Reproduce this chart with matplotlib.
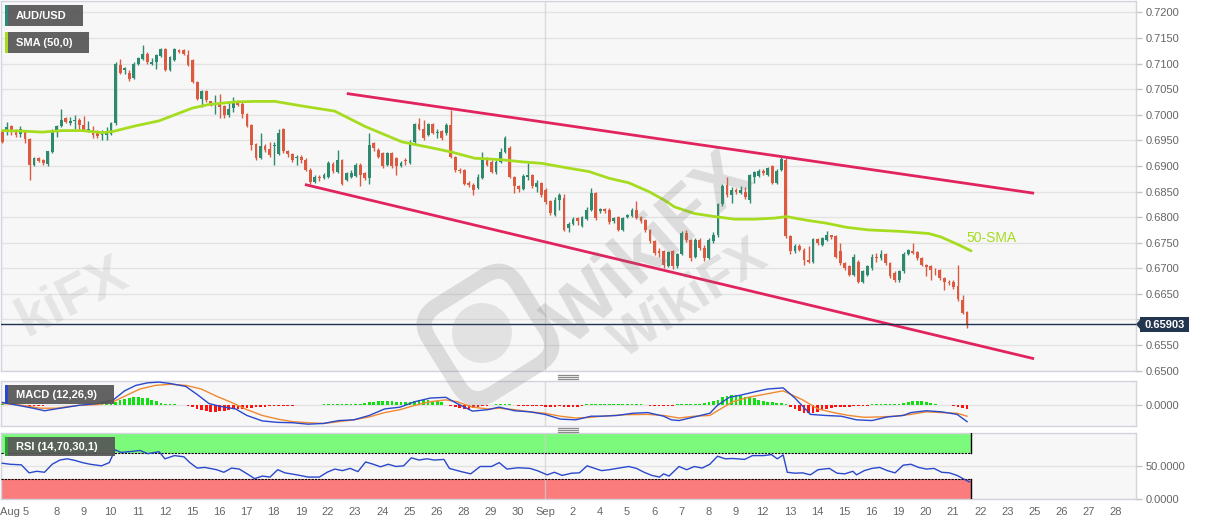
import matplotlib
matplotlib.use('Agg')
import matplotlib.pyplot as plt
import matplotlib.transforms as mtransforms
import numpy as np
from matplotlib.patches import Rectangle, Polygon, FancyBboxPatch, Circle
from matplotlib.lines import Line2D

plt.rcParams['font.family'] = ['Liberation Sans', 'DejaVu Sans']

# ---------------- data (4H candles, AUD/USD) ----------------
opens = [
    0.6967, 0.6967, 0.6977, 0.6970, 0.6963, 0.6967, 0.6952, 0.6902, 0.6915, 0.6911,
    0.6903, 0.6928, 0.6970, 0.6978, 0.6993, 0.6983, 0.6987, 0.6989, 0.6980, 0.6970,
    0.6971, 0.6967, 0.6960, 0.6960, 0.6963, 0.6983, 0.7098, 0.7087, 0.7082, 0.7072,
    0.7100, 0.7108, 0.7119, 0.7100, 0.7102, 0.7115, 0.7128, 0.7087, 0.7106, 0.7126,
    0.7126, 0.7117, 0.7106, 0.7064, 0.7030, 0.7046, 0.7026, 0.7019, 0.7022, 0.7017,
    0.6999, 0.7013, 0.7025, 0.7020, 0.7002, 0.6980, 0.6942, 0.6915, 0.6938, 0.6933,
    0.6938, 0.6923, 0.6972, 0.6929, 0.6923, 0.6915, 0.6918, 0.6912, 0.6892, 0.6868,
    0.6879, 0.6877, 0.6879, 0.6903, 0.6889, 0.6912, 0.6873, 0.6879, 0.6881, 0.6902,
    0.6886, 0.6876, 0.6944, 0.6931, 0.6925, 0.6902, 0.6925, 0.6915, 0.6899, 0.6912,
    0.6905, 0.6947, 0.6981, 0.6973, 0.6960, 0.6981, 0.6964, 0.6968, 0.6964, 0.6979,
    0.6918, 0.6892, 0.6892, 0.6867, 0.6862, 0.6857, 0.6876, 0.6912, 0.6908, 0.6889,
    0.6908, 0.6928, 0.6934, 0.6879, 0.6860, 0.6854, 0.6879, 0.6882, 0.6858, 0.6866,
    0.6853, 0.6831, 0.6804, 0.6834, 0.6837, 0.6779, 0.6787, 0.6798, 0.6783, 0.6796,
    0.6814, 0.6847, 0.6811, 0.6816, 0.6814, 0.6792, 0.6800, 0.6775, 0.6800, 0.6802,
    0.6814, 0.6800, 0.6794, 0.6775, 0.6753, 0.6733, 0.6733, 0.6705, 0.6733, 0.6704,
    0.6727, 0.6769, 0.6756, 0.6723, 0.6756, 0.6740, 0.6720, 0.6753, 0.6766, 0.6826,
    0.6863, 0.6843, 0.6853, 0.6848, 0.6850, 0.6834, 0.6879, 0.6880, 0.6891, 0.6882,
    0.6899, 0.6867, 0.6892, 0.6912, 0.6763, 0.6733, 0.6744, 0.6736, 0.6716, 0.6713,
    0.6757, 0.6746, 0.6756, 0.6765, 0.6763, 0.6733, 0.6710, 0.6705, 0.6687, 0.6713,
    0.6674, 0.6687, 0.6700, 0.6723, 0.6720, 0.6727, 0.6710, 0.6691, 0.6678, 0.6694,
    0.6728, 0.6733, 0.6731, 0.6720, 0.6707, 0.6704, 0.6697, 0.6697, 0.6681, 0.6674,
    0.6674, 0.6665, 0.6639, 0.6614]
closes = [
    0.6947, 0.6976, 0.6968, 0.6961, 0.6973, 0.6952, 0.6902, 0.6916, 0.6910, 0.6905,
    0.6929, 0.6970, 0.6978, 0.6989, 0.6985, 0.6987, 0.6990, 0.6980, 0.6970, 0.6973,
    0.6961, 0.6959, 0.6963, 0.6967, 0.6983, 0.7100, 0.7082, 0.7091, 0.7069, 0.7100,
    0.7111, 0.7119, 0.7102, 0.7103, 0.7116, 0.7128, 0.7087, 0.7113, 0.7128, 0.7123,
    0.7119, 0.7097, 0.7064, 0.7030, 0.7046, 0.7028, 0.7020, 0.7022, 0.7015, 0.6999,
    0.7012, 0.7025, 0.7019, 0.7002, 0.6978, 0.6941, 0.6915, 0.6938, 0.6931, 0.6921,
    0.6941, 0.6964, 0.6929, 0.6923, 0.6912, 0.6918, 0.6912, 0.6892, 0.6868, 0.6879,
    0.6876, 0.6882, 0.6905, 0.6890, 0.6912, 0.6865, 0.6886, 0.6886, 0.6902, 0.6882,
    0.6876, 0.6941, 0.6934, 0.6918, 0.6899, 0.6925, 0.6899, 0.6899, 0.6905, 0.6909,
    0.6947, 0.6981, 0.6973, 0.6954, 0.6981, 0.6964, 0.6967, 0.6954, 0.6979, 0.6918,
    0.6892, 0.6890, 0.6865, 0.6862, 0.6853, 0.6879, 0.6912, 0.6902, 0.6889, 0.6908,
    0.6928, 0.6954, 0.6879, 0.6860, 0.6854, 0.6880, 0.6882, 0.6860, 0.6866, 0.6843,
    0.6829, 0.6808, 0.6834, 0.6843, 0.6775, 0.6787, 0.6796, 0.6792, 0.6800, 0.6814,
    0.6847, 0.6798, 0.6816, 0.6811, 0.6790, 0.6798, 0.6775, 0.6798, 0.6804, 0.6814,
    0.6798, 0.6792, 0.6775, 0.6753, 0.6730, 0.6729, 0.6707, 0.6731, 0.6704, 0.6727,
    0.6769, 0.6756, 0.6720, 0.6756, 0.6740, 0.6720, 0.6756, 0.6766, 0.6826, 0.6861,
    0.6843, 0.6853, 0.6849, 0.6853, 0.6840, 0.6882, 0.6889, 0.6891, 0.6886, 0.6895,
    0.6866, 0.6891, 0.6913, 0.6763, 0.6733, 0.6744, 0.6736, 0.6716, 0.6713, 0.6757,
    0.6749, 0.6759, 0.6765, 0.6762, 0.6723, 0.6710, 0.6700, 0.6687, 0.6723, 0.6674,
    0.6694, 0.6704, 0.6723, 0.6720, 0.6727, 0.6710, 0.6684, 0.6678, 0.6694, 0.6728,
    0.6735, 0.6730, 0.6720, 0.6707, 0.6702, 0.6697, 0.6696, 0.6681, 0.6674, 0.6672,
    0.6663, 0.6640, 0.6613, 0.6590]
highs = [
    0.6970, 0.6985, 0.6980, 0.6972, 0.6978, 0.6970, 0.6955, 0.6918, 0.6918, 0.6913,
    0.6930, 0.6972, 0.6980, 0.7011, 0.6996, 0.6996, 0.6999, 0.6993, 0.6998, 0.6987,
    0.6978, 0.6970, 0.6970, 0.6976, 0.6985, 0.7102, 0.7108, 0.7093, 0.7087, 0.7102,
    0.7113, 0.7137, 0.7122, 0.7110, 0.7118, 0.7130, 0.7130, 0.7115, 0.7130, 0.7128,
    0.7128, 0.7126, 0.7108, 0.7066, 0.7048, 0.7048, 0.7027, 0.7038, 0.7041, 0.7019,
    0.7025, 0.7035, 0.7028, 0.7026, 0.7004, 0.6982, 0.6945, 0.6964, 0.6942, 0.6947,
    0.6947, 0.6973, 0.6974, 0.6931, 0.6926, 0.6921, 0.6921, 0.6915, 0.6895, 0.6883,
    0.6882, 0.6886, 0.6910, 0.6907, 0.6931, 0.6914, 0.6889, 0.6892, 0.6906, 0.6905,
    0.6888, 0.6964, 0.6947, 0.6934, 0.6928, 0.6928, 0.6928, 0.6918, 0.6910, 0.6915,
    0.6950, 0.6984, 0.6993, 0.6990, 0.6983, 0.6983, 0.6973, 0.6970, 0.6983, 0.7009,
    0.6920, 0.6895, 0.6894, 0.6870, 0.6866, 0.6884, 0.6928, 0.6918, 0.6912, 0.6912,
    0.6934, 0.6958, 0.6938, 0.6881, 0.6862, 0.6884, 0.6905, 0.6884, 0.6873, 0.6868,
    0.6856, 0.6833, 0.6840, 0.6847, 0.6845, 0.6790, 0.6800, 0.6801, 0.6803, 0.6820,
    0.6856, 0.6849, 0.6818, 0.6818, 0.6817, 0.6801, 0.6802, 0.6801, 0.6806, 0.6818,
    0.6832, 0.6802, 0.6796, 0.6777, 0.6755, 0.6740, 0.6735, 0.6734, 0.6735, 0.6730,
    0.6772, 0.6775, 0.6758, 0.6760, 0.6760, 0.6745, 0.6760, 0.6770, 0.6828, 0.6864,
    0.6879, 0.6858, 0.6856, 0.6860, 0.6858, 0.6885, 0.6891, 0.6893, 0.6893, 0.6898,
    0.6901, 0.6893, 0.6919, 0.6915, 0.6765, 0.6748, 0.6747, 0.6740, 0.6743, 0.6760,
    0.6760, 0.6762, 0.6772, 0.6766, 0.6765, 0.6749, 0.6712, 0.6707, 0.6727, 0.6716,
    0.6697, 0.6707, 0.6727, 0.6730, 0.6735, 0.6730, 0.6712, 0.6694, 0.6697, 0.6731,
    0.6737, 0.6749, 0.6733, 0.6722, 0.6709, 0.6706, 0.6700, 0.6699, 0.6683, 0.6677,
    0.6678, 0.6707, 0.6648, 0.6616]
lows = [
    0.6945, 0.6960, 0.6960, 0.6957, 0.6957, 0.6944, 0.6873, 0.6900, 0.6908, 0.6902,
    0.6900, 0.6926, 0.6957, 0.6976, 0.6983, 0.6980, 0.6973, 0.6970, 0.6968, 0.6967,
    0.6954, 0.6955, 0.6950, 0.6950, 0.6960, 0.6980, 0.7080, 0.7080, 0.7065, 0.7070,
    0.7098, 0.7106, 0.7100, 0.7098, 0.7090, 0.7113, 0.7085, 0.7085, 0.7104, 0.7120,
    0.7116, 0.7095, 0.7062, 0.7028, 0.7015, 0.7025, 0.7017, 0.7002, 0.6994, 0.6994,
    0.6996, 0.7006, 0.7017, 0.6993, 0.6976, 0.6931, 0.6912, 0.6913, 0.6928, 0.6918,
    0.6902, 0.6921, 0.6926, 0.6917, 0.6908, 0.6902, 0.6905, 0.6890, 0.6865, 0.6866,
    0.6871, 0.6874, 0.6877, 0.6887, 0.6887, 0.6862, 0.6871, 0.6877, 0.6879, 0.6860,
    0.6872, 0.6865, 0.6930, 0.6915, 0.6895, 0.6899, 0.6895, 0.6882, 0.6897, 0.6902,
    0.6903, 0.6944, 0.6970, 0.6951, 0.6958, 0.6962, 0.6954, 0.6950, 0.6960, 0.6915,
    0.6888, 0.6886, 0.6862, 0.6858, 0.6844, 0.6855, 0.6874, 0.6899, 0.6886, 0.6885,
    0.6905, 0.6926, 0.6877, 0.6847, 0.6850, 0.6852, 0.6873, 0.6856, 0.6850, 0.6840,
    0.6826, 0.6805, 0.6802, 0.6814, 0.6772, 0.6770, 0.6785, 0.6785, 0.6781, 0.6794,
    0.6812, 0.6795, 0.6808, 0.6808, 0.6786, 0.6789, 0.6772, 0.6773, 0.6798, 0.6800,
    0.6796, 0.6788, 0.6770, 0.6750, 0.6725, 0.6723, 0.6700, 0.6703, 0.6698, 0.6700,
    0.6725, 0.6752, 0.6715, 0.6720, 0.6735, 0.6715, 0.6718, 0.6750, 0.6762, 0.6822,
    0.6840, 0.6828, 0.6845, 0.6846, 0.6835, 0.6827, 0.6866, 0.6878, 0.6882, 0.6880,
    0.6864, 0.6865, 0.6890, 0.6760, 0.6728, 0.6730, 0.6733, 0.6707, 0.6710, 0.6710,
    0.6746, 0.6744, 0.6754, 0.6758, 0.6720, 0.6707, 0.6697, 0.6684, 0.6684, 0.6671,
    0.6671, 0.6684, 0.6697, 0.6713, 0.6716, 0.6707, 0.6681, 0.6674, 0.6674, 0.6691,
    0.6726, 0.6727, 0.6717, 0.6704, 0.6684, 0.6678, 0.6687, 0.6678, 0.6658, 0.6668,
    0.6660, 0.6637, 0.6610, 0.6584]

last_price = 0.65903

# 50-period SMA (candle index, value)
sma_idx = [0, 4.4, 8.8, 13.2, 17.6, 22, 24.3, 29.3, 34.6, 39, 42, 45.6, 51.4, 55.8, 60.2,
           66.2, 73.4, 80.1, 88.2, 95.5, 99.2, 104.3, 110.3, 114.7, 119.1, 123.5, 129.5,
           133.9, 138.3, 142.7, 146.2, 148.4, 152.8, 157.3, 161.7, 166.1, 170.5, 173.1,
           177.5, 182, 186.4, 191.2, 198.5, 204.5, 207.3, 211.1, 213.9]
sma_val = [0.6969, 0.6968, 0.6966, 0.6969, 0.6969, 0.6965, 0.6967, 0.6978, 0.6988, 0.7003,
           0.7013, 0.7020, 0.7025, 0.7026, 0.7026, 0.7017, 0.7007, 0.6977, 0.6947, 0.6934,
           0.6927, 0.6915, 0.6912, 0.6908, 0.6905, 0.6898, 0.6889, 0.6876, 0.6867, 0.6850,
           0.6833, 0.6820, 0.6807, 0.6801, 0.6796, 0.6796, 0.6798, 0.6801, 0.6794, 0.6788,
           0.6780, 0.6775, 0.6772, 0.6768, 0.6761, 0.6746, 0.6734]

# descending channel (candle index, price)
upper_line_idx = [76.35, 227.5]
upper_line_val = [0.7041, 0.6847]
lower_line_idx = [67.1, 227.5]
lower_line_val = [0.6863, 0.6524]

# MACD (12,26,9)
macd_idx = [0, 3.4, 6.8, 9.3, 11.8, 16.9, 21.1, 24.5, 27, 29.5, 32.1, 34.6, 37.1, 40.5, 43,
            45.6, 48.1, 51.5, 54, 57.4, 60.8, 64.1, 67.5, 70.9, 74.3, 77.6, 81, 84.4, 87.8,
            91.1, 94.5, 97.9, 100.4, 103.8, 107.2, 109.7, 113.1, 116.5, 119.8, 123.2, 126.6,
            130, 132.3, 135.7, 139.1, 142.5, 146, 147.7, 149.4, 152.8, 156.2, 157.9, 160.5,
            163, 166.4, 169, 172.4, 175, 178.4, 181.8, 185.2, 188.6, 192, 195.4, 198.9, 200.6,
            204, 207.4, 210.8, 213]
macd_val = [0.00042, -0.00014, -0.0007, -0.00119, -0.00084, -0.00014, 0.00021, 0.00091,
            0.00266, 0.00371, 0.0042, 0.00434, 0.00406, 0.0035, 0.00196, 0.00021, -0.00035,
            -0.00084, -0.0021, -0.00315, -0.00343, -0.0035, -0.00378, -0.00364, -0.00308,
            -0.00294, -0.0021, -0.00084, -0.00049, 0.00056, 0.00126, 0.0014, 0.00021,
            -0.00126, -0.00098, -0.00049, -0.00119, -0.0014, -0.00189, -0.0028, -0.00294,
            -0.00224, -0.00224, -0.0021, -0.00168, -0.00154, -0.00224, -0.00294, -0.00308,
            -0.00238, -0.00168, -0.00014, 0.0014, 0.00182, 0.00252, 0.00301, 0.00322,
            0.00126, -0.00189, -0.0021, -0.00224, -0.00294, -0.00308, -0.00238, -0.0021,
            -0.00154, -0.00119, -0.0014, -0.00189, -0.00329]
sig_idx = [0, 3.4, 8.4, 11.8, 16.9, 21.1, 24.5, 27, 30.4, 33.8, 37.1, 40.5, 43.9, 47.3,
           50.6, 54, 57.4, 60.8, 64.1, 67.5, 70.9, 74.3, 77.6, 81, 84.4, 87.8, 91.1, 94.5,
           97.9, 100.4, 103.8, 107.2, 109.7, 113.1, 116.5, 119.8, 123.2, 126.6, 130, 132.3,
           137.4, 142.5, 146, 149.4, 152.8, 156.2, 157.9, 161.3, 164.7, 168.1, 172.4, 176.7,
           180.1, 183.5, 186.9, 190.3, 193.7, 197.1, 200.6, 204, 207.4, 210.8, 213]
sig_val = [0.00021, 0.0, -0.0007, -0.0007, -0.00014, 0.0, 0.00056, 0.00161, 0.00301,
           0.00371, 0.00392, 0.00371, 0.00301, 0.00161, 0.00042, -0.00098, -0.0021, -0.0028,
           -0.00329, -0.0035, -0.00364, -0.00329, -0.00294, -0.00238, -0.00154, -0.00098,
           -0.00014, 0.00056, 0.00091, 0.00056, -0.00049, -0.00084, -0.0007, -0.00098,
           -0.0014, -0.00168, -0.00224, -0.00259, -0.00245, -0.00224, -0.00196, -0.00189,
           -0.0021, -0.00259, -0.00224, -0.0021, -0.00119, 0.00056, 0.0014, 0.00196,
           0.00266, 0.00091, -0.00084, -0.00154, -0.0021, -0.00245, -0.00238, -0.00224,
           -0.00189, -0.0014, -0.00154, -0.00168, -0.00224]
macd_hist = [
    0.00007, 0.0, -0.00007, -0.00007, -0.00014, -0.00021, -0.00021, -0.00021, -0.00021, -0.00021,
    -0.00014, -0.00007, -0.00007, -0.00007, 0.0, 0.0, 0.0, 0.0, 0.0, 0.00007,
    0.00007, 0.00007, 0.00007, 0.00007, 0.00021, 0.00056, 0.00091, 0.00112, 0.00126, 0.0014,
    0.0014, 0.00133, 0.00119, 0.00098, 0.0007, 0.00035, 0.00014, 0.00007, 0.00007, 0.0,
    -0.00014, -0.00028, -0.00056, -0.00084, -0.00098, -0.00126, -0.0014, -0.0014, -0.00126, -0.00119,
    -0.00105, -0.00091, -0.00084, -0.00077, -0.0007, -0.0007, -0.00056, -0.00049, -0.00042, -0.00035,
    -0.00028, -0.00028, -0.00021, -0.00021, -0.00021, -0.00014, -0.00014, -0.00014, -0.00014, -0.00014,
    -0.00014, 0.00007, 0.00007, 0.00007, 0.00007, 0.00007, 0.00007, 0.00007, 0.00007, 0.00021,
    0.00028, 0.00042, 0.00056, 0.00063, 0.0007, 0.0007, 0.00063, 0.00056, 0.00056, 0.00056,
    0.00056, 0.0007, 0.00084, 0.00091, 0.00084, 0.00077, 0.0007, 0.00049, -0.00007, -0.00021,
    -0.00042, -0.0007, -0.00084, -0.00084, -0.0007, -0.00056, -0.00035, -0.00021, -0.00007, 0.00007,
    0.00014, 0.00014, 0.00007, -0.00014, -0.00028, -0.00028, -0.00028, -0.00028, -0.00035, -0.00035,
    -0.00042, -0.00042, -0.00042, -0.00035, -0.00042, -0.00049, -0.00049, -0.00042, -0.00028, 0.00007,
    0.00007, 0.00007, 0.00007, 0.00007, 0.00007, 0.00014, 0.00007, 0.00014, 0.00007, 0.00007,
    0.00007, 0.00007, -0.00014, -0.00021, -0.00028, -0.00028, -0.00028, -0.00028, -0.00021, 0.00007,
    0.00007, 0.00007, 0.00007, 0.00014, 0.00014, 0.00028, 0.00042, 0.0007, 0.00098, 0.0014,
    0.00168, 0.00182, 0.00182, 0.00168, 0.00154, 0.0014, 0.00119, 0.00098, 0.0007, 0.00056,
    0.00042, 0.00035, 0.00028, 0.00014, -0.00049, -0.00084, -0.00119, -0.00154, -0.00168, -0.00161,
    -0.0014, -0.00112, -0.00084, -0.0007, -0.00056, -0.00049, -0.00042, -0.00042, -0.00035, -0.00035,
    -0.00028, -0.00021, 0.00007, 0.00007, 0.00007, 0.00007, 0.00007, 0.00007, 0.00007, 0.00028,
    0.00049, 0.0007, 0.0007, 0.00063, 0.00049, 0.00035, 0.00014, -0.00007, -0.00014, -0.00014,
    -0.00021, -0.00049, -0.0007, -0.00084]

# RSI (14,70,30,1)
rsi_idx = [0, 1.7, 4.2, 5.9, 7.6, 9.3, 11, 12.7, 14.3, 16, 17.7, 19.4, 21.9, 23.6, 24.9, 26.2,
           28.7, 30.4, 32.1, 34.6, 35.9, 38, 40.1, 41.4, 43, 44.7, 47.3, 48.9, 50.6, 52.3,
           54.4, 55.7, 57.4, 59.1, 60.8, 62.4, 65, 67.5, 70, 71.7, 73.4, 75.1, 76.8, 78.5,
           80.2, 81.9, 83.5, 85.2, 86.9, 88.6, 90.3, 92, 93.7, 95.4, 97.5, 98.7, 101.3, 103.4,
           105.5, 108, 109.7, 111.4, 113.9, 116.5, 118.1, 120.3, 121.9, 123.6, 125.7, 127.4,
           129.1, 130.8, 132.3, 134, 135.7, 138.3, 140, 141.7, 143.4, 145.1, 146, 147.2,
           149.4, 151.1, 152.8, 154.5, 156.2, 157.9, 159.6, 161.3, 163.9, 165.6, 168.1, 169.8,
           171.1, 172.4, 173.3, 175, 176.7, 178.4, 180.1, 182.6, 184.3, 186, 187.8, 188.6,
           190.3, 192, 193.7, 195.4, 197.1, 198.9, 200.6, 202.3, 204, 205.7, 207.4, 209.1,
           210.8, 212.5, 213.5]
rsi_val = [53.9, 52.4, 51.5, 39.3, 41.7, 40.2, 52.4, 58.8, 60.7, 58.3, 54.9, 52.4, 50, 54.9,
           74.4, 70.5, 72, 73.4, 68.5, 71.5, 60.7, 65.6, 63.7, 54.9, 46.6, 47.6, 44.1, 40.2,
           46.6, 45.1, 36.3, 30.5, 34.4, 32.9, 44.1, 39.3, 36.3, 32.9, 32.9, 40.2, 45.1, 42.7,
           46.1, 41.2, 55.9, 52.4, 48.5, 52.4, 49, 50, 62.2, 58.8, 60.7, 58.8, 59.8, 46.1,
           41.2, 37.8, 49, 49, 54.9, 45.1, 47.1, 46.1, 42.7, 36.3, 40.2, 35.4, 38.8, 39.3,
           50, 46.1, 42.7, 44.1, 46.1, 49, 46.1, 40.2, 35.4, 32.9, 37.8, 34.4, 49, 44.1, 49,
           46.6, 52.4, 64.6, 60.7, 61.2, 59.8, 65.6, 65.6, 67.1, 60.7, 66.6, 40.2, 38.8, 39.3,
           36.3, 44.1, 46.1, 38.8, 37.8, 41.7, 36.3, 42.7, 46.1, 47.6, 42.7, 39.3, 51, 52.4,
           47.6, 45.1, 46.1, 40.2, 39.3, 35.4, 29, 25.6]

day_labels = ['Aug 5', '8', '9', '10', '11', '12', '15', '16', '17', '18', '19', '22', '23',
              '24', '25', '26', '28', '29', '30', 'Sep', '2', '4', '5', '6', '7', '8', '9',
              '12', '13', '14', '15', '16', '19', '20', '21', '22', '23', '25', '26', '27', '28']
price_ticks = [0.65, 0.655, 0.66, 0.665, 0.67, 0.675, 0.68, 0.685, 0.69, 0.695, 0.70,
               0.705, 0.71, 0.715, 0.72]

# ---------------- styling ----------------
GREEN = '#2d8a6e'
RED = '#dc5b40'
SMA_C = '#a6dc1f'
CHAN_C = '#e1245e'
FACE = '#f7f7f7'
GRID = '#e3e3e3'

W, H = 1207, 526
fig = plt.figure(figsize=(W / 100, H / 100), dpi=100)
fig.patch.set_facecolor('white')


def fbox(x0, y0, x1, y1):
    return [x0 / W, 1 - y1 / H, (x1 - x0) / W, (y1 - y0) / H]


def fx(x):
    return x / W


def fy(y):
    return 1 - y / H


ax = fig.add_axes(fbox(1, 1, 1136, 371))
axm = fig.add_axes(fbox(1, 381, 1136, 426))
axr = fig.add_axes(fbox(1, 433, 1136, 499))

XMIN, XMAX = -0.3, 250.3
n = len(closes)
BAND_END = n - 0.2
day_pos = [5.9 + 6 * k for k in range(len(day_labels))]
SEP_POS = day_pos[day_labels.index('Sep')]

for a in (ax, axm, axr):
    a.set_facecolor(FACE)
    a.set_xlim(XMIN, XMAX)
    for s in a.spines.values():
        s.set_color('#d3d3de')
        s.set_linewidth(1)
    a.yaxis.tick_right()
    a.tick_params(axis='y', direction='out', length=4, width=1, color='#c4c4c4',
                  labelcolor='#666666', labelsize=8, pad=3)
    a.yaxis.grid(True, color=GRID, linewidth=1, zorder=0)
    a.set_axisbelow(True)
    a.axvline(SEP_POS, color='#cfcfcf', linewidth=1, alpha=0.7, zorder=2)

ax.set_xticks([])
axm.set_xticks([])

# ---- main price panel ----
idx = np.arange(n)
O = np.array(opens)
C = np.array(closes)
Hh = np.array(highs)
Ll = np.array(lows)
col = np.where(C >= O, GREEN, RED)
ax.vlines(idx, np.minimum(Ll, np.minimum(O, C)), np.maximum(Hh, np.maximum(O, C)),
          colors=col, linewidth=1, zorder=3)
body = np.maximum(np.abs(C - O), 0.00006)
ax.bar(idx, body, bottom=np.minimum(O, C), width=0.62, color=col, linewidth=0, zorder=4)

ax.plot(sma_idx, sma_val, color=SMA_C, linewidth=2, zorder=5, solid_capstyle='round')
ax.plot(upper_line_idx, upper_line_val, color=CHAN_C, linewidth=2, zorder=5)
ax.plot(lower_line_idx, lower_line_val, color=CHAN_C, linewidth=2, zorder=5)
ax.text(212.9, 0.6759, '50-SMA', color=SMA_C, fontsize=10, ha='left', va='center', zorder=6)
ax.axhline(last_price, color='#1d3150', linewidth=1, zorder=6)

ax.set_ylim(0.64994, 0.72221)
ax.set_yticks(price_ticks)
# the 0.6600 label sits behind the last-price tag in the original, so it is left blank
ax.set_yticklabels(['' if abs(v - 0.66) < 1e-9 else '%.4f' % v for v in price_ticks])

# ---- MACD panel ----
hist = np.array(macd_hist)
axm.bar(idx, hist, width=0.6, color=np.where(hist >= 0, '#10e010', '#ff1010'),
        linewidth=0, zorder=3)
axm.plot(sig_idx, sig_val, color='#f08a30', linewidth=1, zorder=4)
axm.plot(macd_idx, macd_val, color='#2a48cc', linewidth=1, zorder=5)
axm.set_ylim(-0.00413, 0.00455)
axm.set_yticks([0.0])
axm.set_yticklabels(['0.0000'])

# ---- RSI panel ----
axr.set_ylim(-0.5, 100)
axr.add_patch(Rectangle((XMIN, 70), BAND_END - XMIN, 35, facecolor='#7cfa7c',
                        edgecolor='none', zorder=1))
axr.add_patch(Rectangle((XMIN, -5), BAND_END - XMIN, 35, facecolor='#fa7c7c',
                        edgecolor='none', zorder=1))
axr.plot([XMIN, BAND_END], [70, 70], color='black', linewidth=0.8, linestyle=(0, (2, 1)), zorder=3)
axr.plot([XMIN, BAND_END], [30, 30], color='black', linewidth=0.8, linestyle=(0, (2, 1)), zorder=3)
axr.plot([BAND_END, BAND_END], [70, 105], color='black', linewidth=1, zorder=3)
axr.plot([BAND_END, BAND_END], [-5, 30], color='black', linewidth=1, zorder=3)
axr.plot(rsi_idx, rsi_val, color='#2a48cc', linewidth=1, zorder=4)
axr.set_yticks([0, 50])
axr.set_yticklabels(['0.0000', '50.0000'])

axr.set_xticks(day_pos)
axr.set_xticklabels(day_labels)
axr.tick_params(axis='x', length=0, labelsize=8, labelcolor='#666666', pad=6)
axr.get_xticklabels()[0].set_horizontalalignment('right')

# ---------------- overlays (figure pixel coords) ----------------

def legend_box(x0, y0, x1, y1, stripe, text):
    fig.add_artist(Rectangle((fx(x0), fy(y1)), (x1 - x0) / W, (y1 - y0) / H,
                             transform=fig.transFigure, facecolor='#555555', alpha=0.92,
                             edgecolor='none', zorder=20))
    fig.add_artist(Rectangle((fx(x0), fy(y1)), 2.5 / W, (y1 - y0) / H,
                             transform=fig.transFigure, facecolor=stripe,
                             edgecolor='none', zorder=21))
    fig.text(fx(x0 + 11), fy((y0 + y1) / 2 + 0.5), text, color='white', fontsize=8,
             fontweight='bold', ha='left', va='center', zorder=22)


legend_box(5, 5, 83, 26, '#2a8a78', 'AUD/USD')
legend_box(5, 32, 89, 53, SMA_C, 'SMA (50,0)')
legend_box(5, 385, 114, 404, '#2a48cc', 'MACD (12,26,9)')
legend_box(5, 437, 115, 456, '#2f9a3a', 'RSI (14,70,30,1)')

# last price tag
fig.add_artist(Rectangle((fx(1140), fy(332)), 49 / W, 15.5 / H, transform=fig.transFigure,
                         facecolor='#23364f', edgecolor='none', zorder=20))
fig.add_artist(Polygon([(fx(1136), fy(324.3)), (fx(1140.5), fy(319)), (fx(1140.5), fy(329.6))],
                       closed=True, transform=fig.transFigure, facecolor='#23364f',
                       edgecolor='none', zorder=20))
fig.text(fx(1164.5), fy(324.8), '%.5f' % last_price, color='white', fontsize=8,
         fontweight='bold', ha='center', va='center', zorder=21)

# panel resize handles
for yy in (374.5, 376.5, 378.5, 427.5, 429.5, 431.5):
    fig.add_artist(Line2D([fx(558), fx(578)], [fy(yy), fy(yy)], transform=fig.transFigure,
                          color='#8a8a8a', linewidth=0.9, zorder=20))

# watermark (faint)
fig.text(fx(650), fy(250), 'WikiFX', fontsize=54, fontweight='bold', color='#7a7a7a',
         alpha=0.22, rotation=42, ha='center', va='center', zorder=15)
fig.text(fx(690), fy(300), 'WikiFX', fontsize=38, fontweight='bold', color='#7a7a7a',
         alpha=0.18, rotation=33, ha='center', va='center', zorder=15)
fig.text(fx(72), fy(298), 'kiFX', fontsize=40, fontweight='bold', color='#7a7a7a',
         alpha=0.14, rotation=27, ha='center', va='center', zorder=15)
rot = mtransforms.Affine2D().rotate_deg_around(488, H - 335, 32)
fig.add_artist(FancyBboxPatch((488 - 52, H - 335 - 52), 104, 104,
                              boxstyle='round,pad=0,rounding_size=24', fill=False,
                              linewidth=11, edgecolor='#7a7a7a', alpha=0.22,
                              transform=rot, zorder=15))
fig.add_artist(Circle((482, H - 333), 30, facecolor='#7a7a7a', alpha=0.16,
                      edgecolor='none', transform=mtransforms.IdentityTransform(), zorder=15))

fig.savefig('out.png', dpi=100, facecolor='white')
